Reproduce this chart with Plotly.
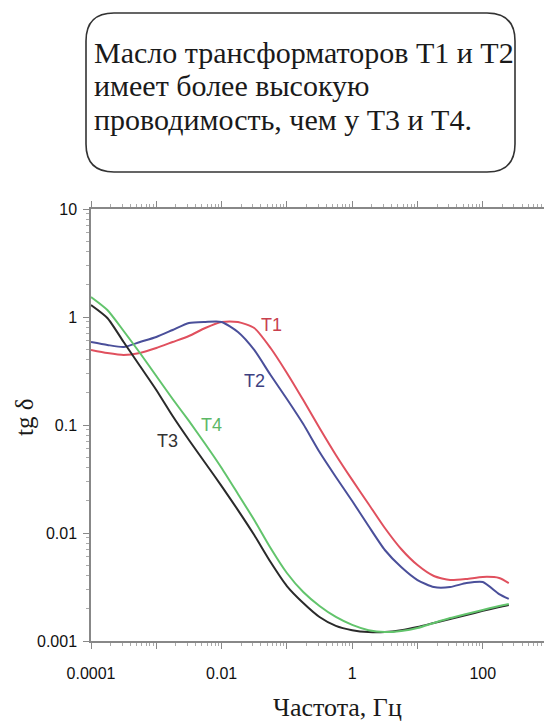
import plotly.graph_objects as go

# ---- data (frequency in Hz, tg delta) ----
freq = [1e-4, 1.78e-4, 3.16e-4, 5.62e-4, 1e-3, 1.78e-3, 3.16e-3, 5.62e-3,
        0.01, 0.0178, 0.0316, 0.0562, 0.1, 0.178, 0.316, 0.562,
        1.0, 1.78, 3.16, 5.62, 10.0, 17.8, 31.6, 56.2, 100.0, 178.0, 250.0]

t1 = [0.495, 0.464, 0.445, 0.464, 0.516, 0.587, 0.667, 0.791,
      0.899, 0.899, 0.791, 0.516, 0.303, 0.170, 0.0938, 0.0528,
      0.0310, 0.01856, 0.01112, 0.00711, 0.00505, 0.0040, 0.00367, 0.00375,
      0.00392, 0.00383, 0.00344]

t2 = [0.587, 0.551, 0.527, 0.587, 0.653, 0.758, 0.880, 0.899,
      0.899, 0.726, 0.495, 0.290, 0.174, 0.102, 0.0562, 0.0330,
      0.0198, 0.0116, 0.00696, 0.00484, 0.00367, 0.00316, 0.00316, 0.00344,
      0.00352, 0.00272, 0.00245]

t3 = [1.29, 0.979, 0.587, 0.352, 0.211, 0.121, 0.0726, 0.0445,
      0.0272, 0.0163, 0.00958, 0.00539, 0.00323, 0.00225, 0.00167, 0.00138,
      0.00126, 0.00121, 0.00121, 0.00126, 0.00135, 0.00147, 0.00160, 0.00174,
      0.00190, 0.00206, 0.00215]

t4 = [1.53, 1.16, 0.742, 0.464, 0.284, 0.174, 0.109, 0.0667,
      0.0400, 0.0230, 0.0132, 0.00726, 0.00426, 0.00284, 0.00211, 0.00167,
      0.00141, 0.00126, 0.00121, 0.00124, 0.00132, 0.00147, 0.00163, 0.00178,
      0.00194, 0.00211, 0.00220]

series_names = ["T1", "T2", "T3", "T4"]
series_colors = ["#e0505e", "#4a4f9a", "#2a2a2a", "#62c46c"]
label_colors = ["#c8404e", "#3c4080", "#333333", "#5cb866"]

x_tickvals = [1e-4, 1e-3, 1e-2, 1e-1, 1, 10, 100, 1000]
x_ticktext = ["0.0001", "", "0.01", "", "1", "", "100", ""]
y_tickvals = [0.001, 0.01, 0.1, 1, 10]
y_ticktext = ["0.001", "0.01", "0.1", "1", "10"]

box_lines = ["Масло трансформаторов Т1 и Т2",
             "имеет более высокую",
             "проводимость, чем у Т3 и Т4."]

# ---- geometry helpers (pixel -> paper) ----
W, H = 544, 724
L, R, T, B = 91, 544, 209, 641


def xp(px):
    return (px - L) / (R - L)


def yp(py):
    return (B - py) / (B - T)


minor_x = [m * 10.0 ** k for k in range(-4, 4) for m in range(2, 10)]
minor_y = [m * 10.0 ** k for k in range(-3, 1) for m in range(2, 10)]

fig = go.Figure()
for name, ys, col in zip(series_names, [t1, t2, t3, t4], series_colors):
    fig.add_trace(go.Scatter(x=freq, y=ys, mode="lines", name=name,
                             line=dict(color=col, width=2, shape="spline", smoothing=0.6),
                             showlegend=False, hoverinfo="skip"))

tickfont = dict(family="Liberation Sans", size=16, color="#111111")
serif = "Liberation Serif"

fig.update_xaxes(type="log", range=[-4, -4 + (R - L) / 65.3],
                 tickvals=x_tickvals, ticktext=x_ticktext,
                 ticks="outside", ticklen=6, tickwidth=1.2, tickcolor="#888888",
                 showline=True, linecolor="#888888", linewidth=1.5,
                 mirror="ticks", showgrid=False, zeroline=False,
                 tickfont=tickfont, ticklabelstandoff=11,
                 minor=dict(tickvals=minor_x, ticks="outside", ticklen=3,
                            tickcolor="#aaaaaa", showgrid=False))
fig.update_yaxes(type="log", range=[-3, 1],
                 tickvals=y_tickvals, ticktext=y_ticktext,
                 ticks="outside", ticklen=6, tickwidth=1.2, tickcolor="#888888",
                 showline=True, linecolor="#888888", linewidth=1.5,
                 mirror=False, showgrid=False, zeroline=False,
                 tickfont=tickfont, ticklabelstandoff=3,
                 minor=dict(tickvals=minor_y, ticks="outside", ticklen=3,
                            tickcolor="#aaaaaa", showgrid=False))

annotations = []
# curve labels (data coords, log10)
label_pos = [(-1.243, -0.074), (-1.489, -0.593), (-2.836, -1.148), (-2.162, -1.0)]
for name, (lx, ly), col in zip(series_names, label_pos, label_colors):
    annotations.append(dict(x=lx, y=ly, xref="x", yref="y", text=name, showarrow=False,
                            font=dict(family="Liberation Sans", size=18, color=col)))

# text box lines
for i, line in enumerate(box_lines):
    annotations.append(dict(x=xp(92), y=yp(52 + i * 33.5), xref="paper", yref="paper",
                            xanchor="left", yanchor="middle", text=line, showarrow=False,
                            font=dict(family=serif, size=30, color="#1a1a1a")))

# axis titles
annotations.append(dict(x=xp(337), y=yp(707), xref="paper", yref="paper", text="Частота, Гц",
                        showarrow=False, xanchor="center", yanchor="middle",
                        font=dict(family=serif, size=26, color="#1a1a1a")))
annotations.append(dict(x=xp(24), y=yp(418), xref="paper", yref="paper", text="tg δ",
                        showarrow=False, textangle=-90, xanchor="center", yanchor="middle",
                        font=dict(family=serif, size=25, color="#1a1a1a")))

# rounded box path (paper coords)
x0, x1, y0, y1, r = 86, 515, 13, 172, 28
path = (f"M {xp(x0 + r)},{yp(y0)} L {xp(x1 - r)},{yp(y0)} "
        f"Q {xp(x1)},{yp(y0)} {xp(x1)},{yp(y0 + r)} "
        f"L {xp(x1)},{yp(y1 - r)} Q {xp(x1)},{yp(y1)} {xp(x1 - r)},{yp(y1)} "
        f"L {xp(x0 + r)},{yp(y1)} Q {xp(x0)},{yp(y1)} {xp(x0)},{yp(y1 - r)} "
        f"L {xp(x0)},{yp(y0 + r)} Q {xp(x0)},{yp(y0)} {xp(x0 + r)},{yp(y0)} Z")

fig.update_layout(width=W, height=H, margin=dict(l=L, r=W - R, t=T, b=H - B, pad=0),
                  paper_bgcolor="white", plot_bgcolor="white",
                  annotations=annotations,
                  shapes=[dict(type="path", path=path, xref="paper", yref="paper",
                               line=dict(color="#333333", width=1.6), fillcolor="rgba(0,0,0,0)")])

fig.write_html("out.html")
